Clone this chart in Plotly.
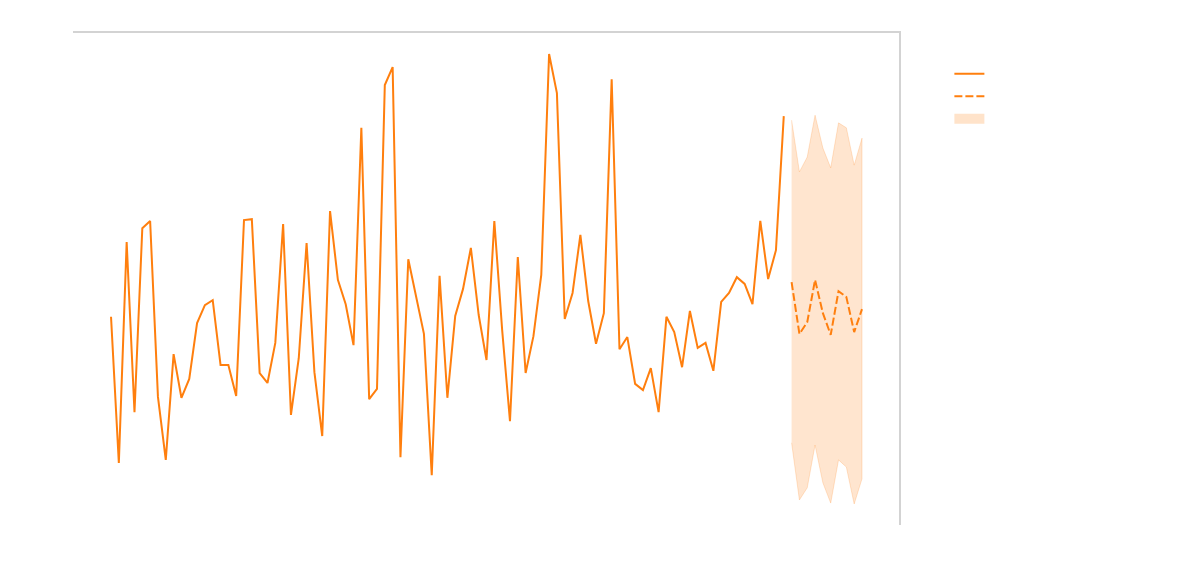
import plotly.graph_objects as go

# historical series (index 0..86)
hist_values = [
    51.6, 19.1, 68.2, 30.4, 71.3, 72.9, 33.8, 19.8, 43.3, 33.6,
    37.8, 50.2, 54.2, 55.3, 40.9, 40.9, 34.0, 73.1, 73.3, 39.1,
    36.9, 45.8, 72.2, 29.8, 42.4, 68.0, 39.3, 25.1, 75.1, 59.8,
    54.4, 45.3, 93.6, 33.3, 35.6, 103.1, 107.1, 20.4, 64.4, 56.4,
    47.8, 16.4, 60.7, 33.6, 51.8, 57.8, 66.9, 52.0, 42.0, 72.9,
    48.7, 28.4, 64.9, 39.1, 47.3, 60.9, 110.0, 101.3, 51.1, 56.9,
    69.8, 55.1, 45.6, 52.4, 104.4, 44.4, 47.1, 36.7, 35.3, 40.2,
    30.4, 51.6, 48.2, 40.4, 52.9, 44.7, 45.8, 39.6, 54.9, 56.9,
    60.4, 58.9, 54.4, 72.9, 60.0, 66.4, 96.2,
]
hist_x = list(range(len(hist_values)))

# forecast (index 87..96)
fc_mean = [59.3, 47.8, 50.4, 59.8, 52.4, 47.6, 57.3, 56.0, 48.2, 53.3]
fc_upper = [95.3, 83.8, 87.1, 96.4, 89.1, 84.7, 94.7, 93.6, 85.3, 91.3]
fc_lower = [23.6, 10.9, 13.6, 23.1, 14.7, 10.2, 19.8, 18.2, 10.0, 15.6]
fc_x = list(range(len(hist_values), len(hist_values) + len(fc_mean)))

orange = "#ff7f0e"
band = "rgba(255,127,14,0.2)"

fig = go.Figure()
fig.add_trace(go.Scatter(
    x=fc_x + fc_x[::-1], y=fc_upper + fc_lower[::-1],
    fill="toself", fillcolor=band,
    line=dict(color=band, width=1),
    mode="lines", name="", hoverinfo="skip", showlegend=False,
))
fig.add_trace(go.Scatter(
    x=hist_x, y=hist_values, mode="lines", name="",
    line=dict(color=orange, width=2), legendrank=1,
))
fig.add_trace(go.Scatter(
    x=fc_x, y=fc_mean, mode="lines", name="",
    line=dict(color=orange, width=2, dash="8px,3px"), legendrank=2,
))
# legend entry for the interval band
fig.add_trace(go.Scatter(
    x=[None], y=[None], mode="lines", name="",
    line=dict(color="rgba(255,127,14,0.22)", width=12), legendrank=3,
))

fig.update_layout(
    width=1178, height=584,
    margin=dict(l=73, r=279, t=33, b=59),
    plot_bgcolor="white", paper_bgcolor="white",
    showlegend=True,
    legend=dict(x=1.061, y=0.95, xanchor="left", yanchor="top",
                font=dict(size=15), bgcolor="rgba(0,0,0,0)"),
    xaxis=dict(range=[-4.86, 100.73], side="top", showline=True,
               linecolor="#d3d3d3", linewidth=2, showgrid=False,
               zeroline=False, showticklabels=False, ticks=""),
    yaxis=dict(range=[5.33, 114.67], side="right", showline=True,
               linecolor="#d3d3d3", linewidth=2, showgrid=False,
               zeroline=False, showticklabels=False, ticks=""),
)

fig.write_html("out.html")
